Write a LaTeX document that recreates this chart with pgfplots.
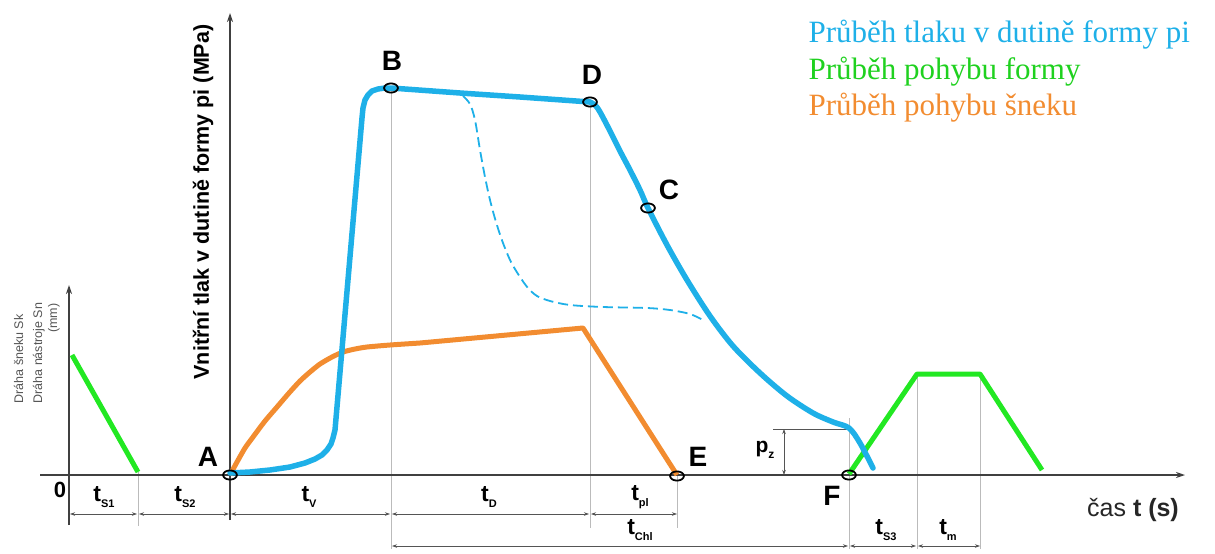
\documentclass[border=0pt]{standalone}
\usepackage{fontspec}
\setmainfont{Liberation Sans}
\newfontfamily\tnr{Liberation Serif}
\usepackage{pgfplots}
\pgfplotsset{compat=1.18}
\usetikzlibrary{arrows.meta}
\definecolor{pblue}{HTML}{1EB0E8}
\definecolor{pgreen}{HTML}{22E822}
\definecolor{porange}{HTML}{F28C30}
\definecolor{dropgray}{HTML}{BBBBBB}
\definecolor{dimgray}{HTML}{555555}
% dimension label: bold t with a small bold index
\newcommand{\tl}[1]{\textbf{t}\raisebox{-0.5ex}{\fontsize{11bp}{11bp}\selectfont\bfseries #1}}
\newcommand{\dimarrow}[3]{\addplot[dimgray, line width=0.6bp,
  {Stealth[length=5bp,width=3.5bp]}-{Stealth[length=5bp,width=3.5bp]}]
  coordinates {(#1,#3) (#2,#3)};}
\newcommand{\dropline}[3]{\addplot[dropgray, line width=0.6bp] coordinates {(#1,#2) (#1,#3)};}
\begin{document}
\begin{tikzpicture}
\begin{axis}[
  width=1215bp, height=553bp, scale only axis,
  xmin=0, xmax=1215, ymin=0, ymax=553, y dir=reverse,
  enlargelimits=false, hide axis, clip=false,
]
\addplot[draw=none] coordinates {(0,0) (1215,553)};

% thin drop lines
\dropline{138}{472}{526}
\dropline{391}{88}{549}
\dropline{590}{102}{528}
\dropline{677}{476}{528}
\dropline{849}{418}{549}
\dropline{917}{374}{549}
\dropline{980}{374}{549}
\addplot[dimgray, line width=0.6bp] coordinates {(773,429) (849,429)};

% axes
\addplot[black!75, line width=1.4bp, -{Stealth[length=9bp,width=6bp]}] coordinates {(40,475) (1185,475)};
\addplot[black!75, line width=1.4bp, -{Stealth[length=9bp,width=6bp]}] coordinates {(69,525) (69,285)};
\addplot[black!75, line width=1.4bp, -{Stealth[length=9bp,width=6bp]}] coordinates {(230,520) (230,13)};

% dimension arrows
\dimarrow{70}{137}{514}
\dimarrow{139}{229}{514}
\dimarrow{231}{390}{514}
\dimarrow{392}{589}{514}
\dimarrow{591}{677}{514}
\dimarrow{392}{848}{546}
\dimarrow{850}{916}{546}
\dimarrow{918}{980}{546}
\addplot[dimgray, line width=0.6bp,
  {Stealth[length=5bp,width=3.5bp]}-{Stealth[length=5bp,width=3.5bp]}]
  coordinates {(784,429) (784,475)};

% mould movement
\addplot[pgreen, line width=5bp] coordinates {(72,355) (138,472)};
\addplot[pgreen, line width=5bp, line join=round] coordinates {(849,474) (917,374) (980,374) (1042,470)};

% screw movement
\addplot[porange, line width=5bp, line join=round, smooth, tension=0.4] coordinates {
(230,475) (237,462) (245,448) (253,437) (265,421) (277,407) (289,393) (300,381)
(310,372) (320,364) (332,357) (343,352) (355,349) (367,347) (390,345) (420,343)};
\addplot[porange, line width=5bp, line join=round] coordinates {(420,343) (583,328) (677,475)};

% cavity pressure
\addplot[pblue, line width=5.5bp, line cap=round, line join=round] coordinates {
(230,473) (250,472) (270,470) (290,467) (305,463) (315,459) (322,455) (327,450)
(331,444) (333,438) (335,430) (362,118) (363,108) (365,100) (368,95) (372,91)
(378,89) (385,88) (391,88) (460,93) (520,97) (590,102)};
\addplot[pblue, line width=5.5bp, line cap=round, smooth, tension=0.5] coordinates {
(590,102) (595,105) (600,112) (610,131) (620,151) (630,170) (640,190) (648,208)
(667,245) (687,280) (710,316) (733,346) (760,373) (787,396) (813,413) (833,422)
(849,428) (860,443) (873,468)};
\addplot[pblue, line width=1.8bp, dash pattern=on 10bp off 5bp, smooth, tension=0.5] coordinates {
(463,96) (470,104) (475,120) (480,150) (485,177) (490,200) (496,222) (503,243)
(511,262) (520,277) (528,288) (537,296) (550,301) (570,305) (603,307) (647,308)
(670,310) (690,314) (703,320)};

% points
\addplot[only marks, mark=o, mark size=4.6bp,
  mark options={xscale=1.5, line width=1.8bp, draw=black}] coordinates {
(230,475) (391,88) (590,102) (648,208) (677,476) (849,475)};

% letters
\node[font=\fontsize{28bp}{28bp}\selectfont\bfseries] at (axis cs:208,457) {A};
\node[font=\fontsize{28bp}{28bp}\selectfont\bfseries] at (axis cs:392,61) {B};
\node[font=\fontsize{28bp}{28bp}\selectfont\bfseries] at (axis cs:669,190) {C};
\node[font=\fontsize{28bp}{28bp}\selectfont\bfseries] at (axis cs:592,75) {D};
\node[font=\fontsize{28bp}{28bp}\selectfont\bfseries] at (axis cs:698,457) {E};
\node[font=\fontsize{28bp}{28bp}\selectfont\bfseries] at (axis cs:832,496) {F};
\node[font=\fontsize{22bp}{22bp}\selectfont\bfseries] at (axis cs:60,490) {0};

% interval labels
\node[font=\fontsize{23bp}{23bp}\selectfont] at (axis cs:104,497) {\tl{S1}};
\node[font=\fontsize{23bp}{23bp}\selectfont] at (axis cs:185,497) {\tl{S2}};
\node[font=\fontsize{23bp}{23bp}\selectfont] at (axis cs:309,497) {\tl{V}};
\node[font=\fontsize{23bp}{23bp}\selectfont] at (axis cs:489,497) {\tl{D}};
\node[font=\fontsize{23bp}{23bp}\selectfont] at (axis cs:640,497) {\tl{pl}};
\node[font=\fontsize{23bp}{23bp}\selectfont] at (axis cs:640,530) {\tl{Chl}};
\node[font=\fontsize{23bp}{23bp}\selectfont] at (axis cs:886,530) {\tl{S3}};
\node[font=\fontsize{23bp}{23bp}\selectfont] at (axis cs:948,530) {\tl{m}};
\node[font=\fontsize{21bp}{21bp}\selectfont] at (axis cs:765,450) {\textbf{p}\raisebox{-0.5ex}{\fontsize{12bp}{12bp}\selectfont\bfseries z}};

% axis titles
\node[font=\fontsize{25bp}{25bp}\selectfont, text=black!85] at (axis cs:1133,510) {čas \textbf{t (s)}};
\node[font=\fontsize{21.5bp}{21.5bp}\selectfont\bfseries, rotate=90] at (axis cs:203,202) {Vnitřní tlak v dutině formy pi (MPa)};
\node[font=\fontsize{12.5bp}{12.5bp}\selectfont, text=dimgray, rotate=90, anchor=base west] at (axis cs:23,407) {Dráha šneku Sk};
\node[font=\fontsize{12.5bp}{12.5bp}\selectfont, text=dimgray, rotate=90, anchor=base west] at (axis cs:42,407) {Dráha nástroje Sn};
\node[font=\fontsize{12.5bp}{12.5bp}\selectfont, text=dimgray, rotate=90, anchor=base east] at (axis cs:57,300) {(mm)};

% legend texts
\node[font=\tnr\fontsize{31bp}{31bp}\selectfont, text=pblue, anchor=base west] at (axis cs:805,43) {Průběh tlaku v dutině formy pi};
\node[font=\tnr\fontsize{31bp}{31bp}\selectfont, text=pgreen!90!black, anchor=base west] at (axis cs:805,80) {Průběh pohybu formy};
\node[font=\tnr\fontsize{31bp}{31bp}\selectfont, text=porange, anchor=base west] at (axis cs:805,115) {Průběh pohybu šneku};
\end{axis}
\end{tikzpicture}
\end{document}
